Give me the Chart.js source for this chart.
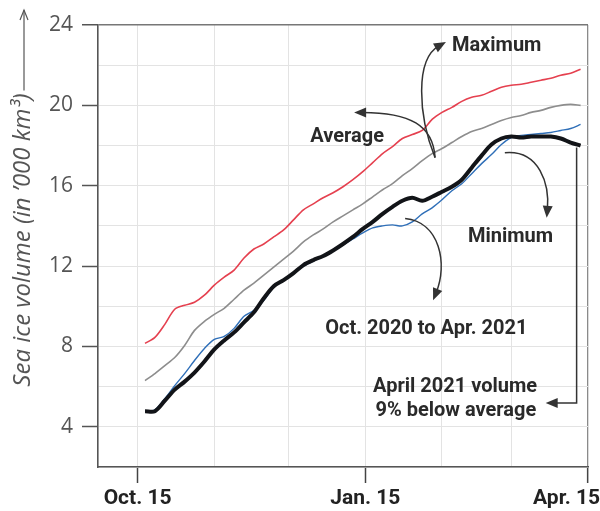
<!DOCTYPE html>
<html>
<head>
<meta charset="utf-8">
<script src="https://cdn.jsdelivr.net/npm/chart.js@4"></script>
<style>
html,body{margin:0;padding:0;background:#fff;}
#wrap{width:600px;height:511px;position:relative;}
</style>
</head>
<body>
<div id="wrap"><canvas id="c" width="600" height="511"></canvas></div>
<script>
// Days counted from Oct. 15
const days = [3,7,11,15,19,23,27,31,35,39,43,47,51,55,59,63,67,71,75,79,83,87,91,95,99,103,107,111,115,119,123,127,131,135,139,143,147,151,155,159,163,167,171,175,179];
// Sea ice volume, thousand km3
const maximum = [8.15,8.45,9.1,9.85,10.05,10.2,10.55,11.05,11.45,11.8,12.4,12.85,13.1,13.45,13.8,14.3,14.8,15.1,15.4,15.65,15.95,16.3,16.7,17.15,17.6,17.95,18.35,18.55,18.75,19.3,19.65,19.9,20.2,20.4,20.5,20.7,20.9,21.0,21.05,21.15,21.25,21.35,21.5,21.6,21.8];
const average = [6.3,6.65,7.05,7.45,8.05,8.8,9.25,9.6,9.9,10.35,10.8,11.15,11.55,11.95,12.35,12.75,13.2,13.55,13.85,14.2,14.5,14.8,15.1,15.45,15.8,16.1,16.5,16.85,17.25,17.6,17.85,18.15,18.45,18.7,18.85,19.05,19.25,19.4,19.5,19.65,19.75,19.9,20.0,20.05,20.0];
const minimum = [4.78,4.85,5.4,6.05,6.65,7.3,7.9,8.35,8.5,8.9,9.5,9.8,10.3,10.95,11.3,11.65,12.0,12.25,12.5,12.75,13.05,13.35,13.65,13.9,14.0,14.05,14.0,14.2,14.6,14.9,15.3,15.75,16.1,16.6,17.1,17.55,18.05,18.4,18.5,18.55,18.6,18.65,18.75,18.85,19.05];
const season2021 = [4.78,4.78,5.3,5.85,6.25,6.7,7.25,7.85,8.3,8.7,9.2,9.7,10.4,11.0,11.3,11.65,12.05,12.3,12.5,12.78,13.1,13.45,13.85,14.2,14.6,14.95,15.25,15.4,15.25,15.45,15.7,15.95,16.3,16.9,17.5,18.05,18.35,18.45,18.4,18.45,18.45,18.45,18.35,18.15,18.0];

const xTickDays = [0,31,61,92,123,151,182];
const xTickLabels = ['Oct. 15','','','Jan. 15','','','Apr. 15'];
const yTickValues = [2,4,6,8,10,12,14,16,18,20,22,24];
const yTickLabels = ['','4','','8','','12','','16','','20','','24'];
const yTitle = "Sea ice volume (in \u2019000 km\u00B3)";

// Annotation texts and arrows (in data units: day, volume)
const notes = [
  {text:'Maximum', x:127.0, y:22.95, align:'left'},
  {text:'Average', x:69.8, y:18.45, align:'left'},
  {text:'Minimum', x:133.5, y:13.45, align:'left'},
  {text:'Oct. 2020 to Apr. 2021', x:75.8, y:8.85, align:'left'},
  {text:'April 2021 volume', x:128.3, y:5.97, align:'center'},
  {text:'9% below average', x:128.6, y:4.78, align:'center'}
];
const curvedArrows = [
  [[120.2,17.4],[113.3,19.5],[112.1,22.3],[124.6,23.15]],
  [[120.2,17.4],[119.4,19.0],[110.1,19.65],[87.5,19.65]],
  [[148.4,17.64],[162.5,17.8],[166.5,16.05],[165.3,14.4]],
  [[108.1,14.37],[122.2,14.2],[125.4,12.1],[119.4,10.3]]
];
const elbowArrow = [[177.4,17.9],[177.4,5.18],[164.9,5.18]];

function head(ctx, tx, ty, fx, fy, len, wid){
  const a = Math.atan2(ty-fy, tx-fx);
  ctx.save();
  ctx.translate(tx,ty); ctx.rotate(a);
  ctx.beginPath();
  ctx.moveTo(0,0); ctx.lineTo(-len,-wid/2); ctx.lineTo(-len,wid/2); ctx.closePath();
  ctx.fill();
  ctx.restore();
}

const annotPlugin = {
  id:'annot',
  afterDatasetsDraw(chart){
    const ctx = chart.ctx, xs = chart.scales.x, ys = chart.scales.y;
    const P = p => [xs.getPixelForValue(p[0]), ys.getPixelForValue(p[1])];
    ctx.save();
    ctx.strokeStyle = '#333'; ctx.fillStyle = '#333'; ctx.lineWidth = 1.5;
    curvedArrows.forEach(a => {
      const [p0,c1,c2,p1] = a.map(P);
      const ang = Math.atan2(p1[1]-c2[1], p1[0]-c2[0]);
      const e = [p1[0]-Math.cos(ang)*8, p1[1]-Math.sin(ang)*8];
      ctx.beginPath(); ctx.moveTo(p0[0],p0[1]);
      ctx.bezierCurveTo(c1[0],c1[1],c2[0],c2[1],e[0],e[1]); ctx.stroke();
      head(ctx,p1[0],p1[1],c2[0],c2[1],12,10);
    });
    const pts = elbowArrow.map(P);
    ctx.beginPath(); ctx.moveTo(pts[0][0],pts[0][1]); ctx.lineTo(pts[1][0],pts[1][1]); ctx.lineTo(pts[2][0]+8,pts[2][1]); ctx.stroke();
    head(ctx,pts[2][0],pts[2][1],pts[1][0],pts[1][1],12,10);

    ctx.fillStyle = '#2a2a2a';
    ctx.font = 'bold 20px Roboto, "Liberation Sans", sans-serif';
    ctx.textBaseline = 'middle';
    notes.forEach(n => { const p = P([n.x,n.y]); ctx.textAlign = n.align; ctx.fillText(n.text,p[0],p[1]); });

    // y axis title with arrow
    ctx.save();
    ctx.font = 'italic 24px "Open Sans", sans-serif';
    ctx.fillStyle = '#555';
    const w = ctx.measureText(yTitle).width;
    const cy = 240, cx = 23;
    ctx.translate(cx, cy); ctx.rotate(-Math.PI/2);
    ctx.textAlign = 'center'; ctx.textBaseline = 'middle';
    ctx.fillText(yTitle, 0, 0);
    ctx.restore();
    const topText = cy - w/2 - 3;
    ctx.strokeStyle = '#555'; ctx.lineWidth = 1.2;
    ctx.beginPath(); ctx.moveTo(cx+1, topText); ctx.lineTo(cx+1, 10); ctx.stroke();
    ctx.beginPath(); ctx.moveTo(cx-3, 20); ctx.lineTo(cx+1, 10); ctx.lineTo(cx+5, 20); ctx.stroke();
    ctx.restore();
  }
};

const mk = (d) => days.map((x,i)=>({x:x,y:d[i]}));

new Chart(document.getElementById('c'), {
  type:'line',
  data:{
    datasets:[
      {label:'Maximum', data:mk(maximum), borderColor:'#e5404f', borderWidth:1.6, pointRadius:0, tension:0.3},
      {label:'Average', data:mk(average), borderColor:'#8d8d8d', borderWidth:1.6, pointRadius:0, tension:0.3},
      {label:'Oct. 2020 to Apr. 2021', data:mk(season2021), borderColor:'#121418', borderWidth:4, pointRadius:0, tension:0.3},
      {label:'Minimum', data:mk(minimum), borderColor:'#2f6fb8', borderWidth:1.4, pointRadius:0, tension:0.3}
    ]
  },
  options:{
    responsive:false,
    animation:false,
    devicePixelRatio:1,
    layout:{padding:{left:0, top:25, right:12, bottom:0}},
    plugins:{legend:{display:false}, tooltip:{enabled:false}},
    scales:{
      x:{
        type:'linear', min:-16, max:182,
        afterBuildTicks: s => { s.ticks = xTickDays.map(v=>({value:v})); },
        afterFit: s => { s.height = 44; s.paddingLeft = 0; s.paddingRight = 0; },
        ticks:{
          autoSkip:false, maxRotation:0, padding:3, color:'#222',
          font:{family:'Roboto, "Liberation Sans", sans-serif', size:21, weight:'bold'},
          callback:(v)=>{ const i = xTickDays.indexOf(v); const l = i>=0 ? xTickLabels[i] : ''; return i===xTickDays.length-1 ? l + '\u2002\u2002\u2002\u2002' : l; }
        },
        grid:{
          color: c => (c.tick && c.tick.value===182) ? '#8a8a8a' : '#e3e3e3',
          lineWidth: c => (c.tick && c.tick.value===182) ? 1.3 : 1,
          tickColor: c => { const i = c.tick ? xTickDays.indexOf(c.tick.value) : -1; return (i>=0 && xTickLabels[i]) ? '#444' : 'rgba(0,0,0,0)'; },
          tickLength:16, tickWidth:1.5
        },
        border:{color:'#555', width:1.6}
      },
      y:{
        min:2, max:24,
        afterBuildTicks: s => { s.ticks = yTickValues.map(v=>({value:v})); },
        afterFit: s => { s.width = 98; s.paddingTop = 0; s.paddingBottom = 0; },
        ticks:{
          padding:9, color:'#555',
          font:{family:'"Open Sans", sans-serif', size:21},
          callback:(v)=>{ const i = yTickValues.indexOf(v); return i>=0 ? yTickLabels[i] : ''; }
        },
        grid:{
          color: c => (c.tick && c.tick.value===24) ? '#777' : '#e3e3e3',
          lineWidth: c => (c.tick && c.tick.value===24) ? 1.5 : 1,
          tickColor: c => { const i = c.tick ? yTickValues.indexOf(c.tick.value) : -1; return (i>=0 && yTickLabels[i]) ? '#555' : 'rgba(0,0,0,0)'; },
          tickLength:16, tickWidth:1.5
        },
        border:{color:'#555', width:1.6}
      }
    }
  },
  plugins:[annotPlugin]
});
</script>
</body>
</html>
